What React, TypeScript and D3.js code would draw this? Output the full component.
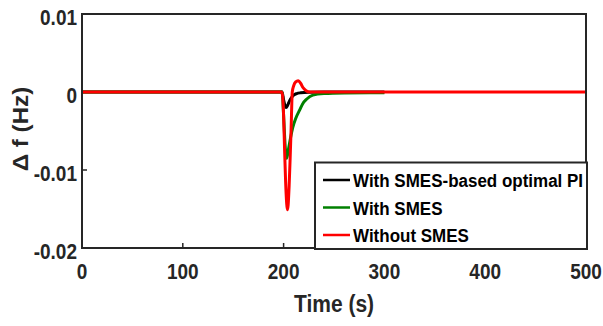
import React from "react";
import * as d3 from "d3";

const xTicks = [0, 100, 200, 300, 400, 500];
const yTicks = [0.01, 0, -0.01, -0.02];
const yTickLabels = ["0.01", "0", "-0.01", "-0.02"];

const blackT = [0, 198.5, 200, 201.5, 202.5, 204, 206, 208, 210, 213, 217, 225, 240, 300];
const blackV = [0, 0, -0.001, -0.0018, -0.002, -0.0017, -0.0011, -0.0007, -0.0004, -0.0002, -0.0001, -0.00003, 0, 0];

const greenT = [0, 198.5, 200, 201.5, 203, 205, 207, 209, 212, 216, 219, 223, 229, 240, 260, 285, 300];
const greenV = [0, 0, -0.003, -0.0068, -0.0085, -0.0072, -0.0058, -0.0046, -0.0034, -0.0023, -0.0015, -0.0009, -0.0004, -0.0002, -0.00012, -0.0001, -0.0001];

const redT = [0, 198, 199, 200, 201, 202, 203, 203.7, 204.5, 205.5, 206.5, 207.5, 208.6, 210, 212, 214.5, 217, 219, 222, 226, 230, 500];
const redV = [0, 0, -0.0005, -0.003, -0.0075, -0.0115, -0.0142, -0.0151, -0.0145, -0.012, -0.0085, -0.0045, 0, 0.0008, 0.0013, 0.00145, 0.0011, 0.0006, 0.0002, 0, 0, 0];

const seriesNames = ["With SMES-based optimal PI", "With SMES", "Without SMES"];
const seriesColors = ["#000000", "#008000", "#ff0000"];

const W = 603, H = 326;
const L = 82, R = 586, T = 14, B = 248;
const FONT = "'Liberation Sans', Arial, sans-serif";
const AX = "#262626";
const SY = 1.12;

function T2(props: { x: number; y: number; anchor?: string; size: number; fill?: string; children: React.ReactNode }) {
  return (
    <text
      transform={`translate(${props.x}, ${props.y}) scale(1, ${SY})`}
      textAnchor={props.anchor || "start"}
      fontFamily={FONT}
      fontWeight="bold"
      fontSize={props.size}
      fill={props.fill || AX}
    >
      {props.children}
    </text>
  );
}

export default function App() {
  const x = d3.scaleLinear().domain([0, 500]).range([L, R]);
  const y = d3.scaleLinear().domain([-0.02, 0.01]).range([B, T]);
  const line = d3
    .line<[number, number]>()
    .x((d) => x(d[0]))
    .y((d) => y(d[1]))
    .curve(d3.curveMonotoneX);

  const data = [
    d3.zip(blackT, blackV) as [number, number][],
    d3.zip(greenT, greenV) as [number, number][],
    d3.zip(redT, redV) as [number, number][],
  ];

  return (
    <svg width={W} height={H} style={{ position: "absolute", left: 0, top: 0, background: "#fff" }}>
      <rect x={0} y={0} width={W} height={H} fill="#fff" />
      <defs>
        <clipPath id="clip">
          <rect x={L} y={T} width={R - L} height={B - T} />
        </clipPath>
      </defs>
      {xTicks.map((t) => (
        <line key={"xt" + t} x1={x(t)} x2={x(t)} y1={B} y2={B - 5} stroke={AX} strokeWidth={1.5} />
      ))}
      {yTicks.map((t) => (
        <line key={"yt" + t} x1={L} x2={L + 5} y1={y(t)} y2={y(t)} stroke={AX} strokeWidth={1.5} />
      ))}
      <g clipPath="url(#clip)">
        {data.map((d, i) => (
          <path key={i} d={line(d) || ""} fill="none" stroke={seriesColors[i]} strokeWidth={3} strokeLinejoin="round" />
        ))}
      </g>
      <rect x={L} y={T} width={R - L} height={B - T} fill="none" stroke={AX} strokeWidth={2} />
      {xTicks.map((t) => (
        <T2 key={"xl" + t} x={x(t)} y={279} anchor="middle" size={19}>
          {t}
        </T2>
      ))}
      {yTicks.map((t, i) => (
        <T2 key={"yl" + t} x={77} y={y(t) + 11} anchor="end" size={19}>
          {yTickLabels[i]}
        </T2>
      ))}
      <T2 x={(L + R) / 2} y={312} anchor="middle" size={21}>
        Time (s)
      </T2>
      <text
        transform={`translate(28, ${(T + B) / 2 - 2}) rotate(-90) scale(1.1, 1)`}
        textAnchor="middle"
        fontFamily={FONT}
        fontWeight="bold"
        fontSize={22}
        fill={AX}
      >
        Δ f (Hz)
      </text>
      <rect x={315} y={162.5} width={272} height={86.5} fill="#fff" stroke={AX} strokeWidth={2} />
      {seriesNames.map((n, i) => {
        const cy = 180 + i * 27.5;
        return (
          <g key={n}>
            <line x1={323} x2={350} y1={cy} y2={cy} stroke={seriesColors[i]} strokeWidth={2.5} />
            <T2 x={353} y={cy + 7} size={17} fill="#000">
              {n}
            </T2>
          </g>
        );
      })}
    </svg>
  );
}
